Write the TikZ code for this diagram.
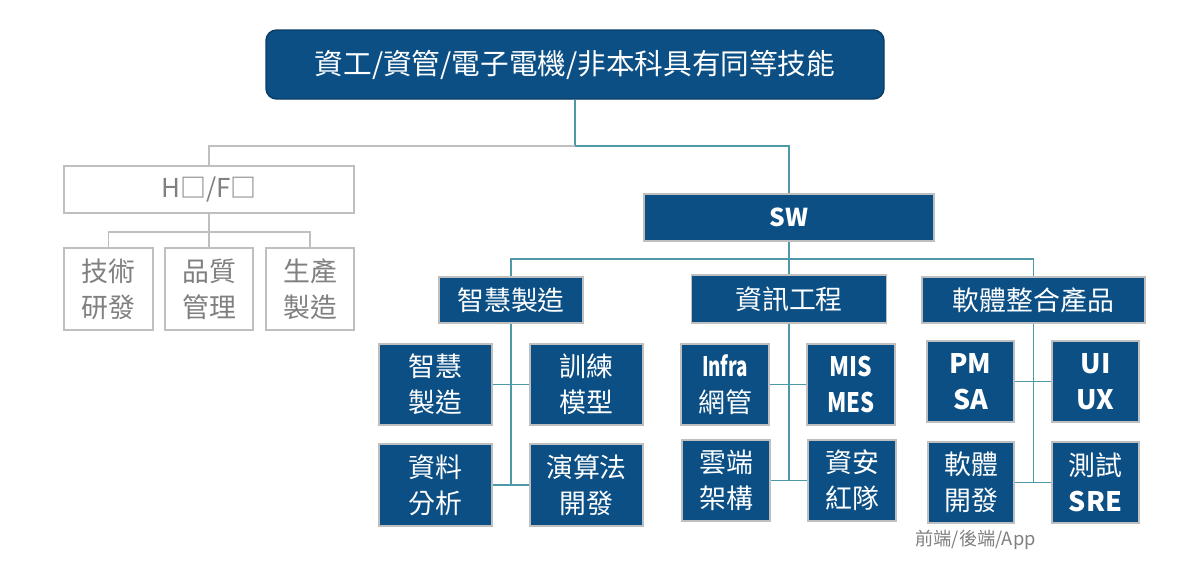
\documentclass[tikz,border=0pt]{standalone}
\usepackage{fontspec}
\setmainfont{Noto Sans CJK TC}
\usetikzlibrary{positioning,calc}

\definecolor{navy}{HTML}{0B4F85}
\definecolor{navyline}{HTML}{0A3D66}
\definecolor{linkteal}{HTML}{4E98A8}
\definecolor{boxgray}{HTML}{BFBFBF}
\definecolor{textgray}{HTML}{808080}

\begin{document}
\begin{tikzpicture}[
    x=0.02cm,
    y=-0.02cm,
    rootbox/.style={
        draw=navyline,
        fill=navy,
        rounded corners=6pt,
        line width=0.8pt,
        text=white,
        font=\fontsize{16.3}{20}\selectfont,
        minimum width=618*0.02cm,
        minimum height=69*0.02cm,
        inner sep=0pt
    },
    bluebox/.style={
        draw=boxgray,
        fill=navy,
        line width=1pt,
        text=white,
        align=center,
        font=\fontsize{15.3}{20.4}\selectfont,
        inner sep=0pt
    },
    graybox/.style={
        draw=boxgray,
        fill=white,
        line width=1pt,
        text=textgray,
        align=center,
        font=\fontsize{15.3}{20.4}\selectfont,
        inner sep=0pt
    },
    teal link/.style={
        draw=linkteal,
        line width=0.85pt
    },
    gray link/.style={
        draw=boxgray,
        line width=0.85pt
    }
]
    \useasboundingbox (0,0) rectangle (1200,582);

    % root
    \node[rootbox] (root) at (575,64.5) {資工/資管/電子電機/非本科具有同等技能};

    % hardware / firmware side
    \node[graybox,minimum width=290*0.02cm,minimum height=47*0.02cm,
          font=\fontsize{14.8}{18}\selectfont] (hf) at (209,189.5) {H□/F□};
    \node[graybox,minimum width=89*0.02cm,minimum height=82*0.02cm] (rd) at (108.5,289) {技術\\研發};
    \node[graybox,minimum width=88*0.02cm,minimum height=82*0.02cm] (qa) at (209,289) {品質\\管理};
    \node[graybox,minimum width=88*0.02cm,minimum height=82*0.02cm] (mfg) at (310,289) {生產\\製造};

    % software side
    \node[bluebox,minimum width=290*0.02cm,minimum height=47*0.02cm,
          font=\fontsize{14}{18}\selectfont\bfseries] (sw) at (789,217.5) {SW};
    \node[bluebox,minimum width=144*0.02cm,minimum height=46*0.02cm] (smart) at (511,300) {智慧製造};
    \node[bluebox,minimum width=195*0.02cm,minimum height=48*0.02cm] (it) at (789,299) {資訊工程};
    \node[bluebox,minimum width=223*0.02cm,minimum height=46*0.02cm] (prod) at (1033.5,300) {軟體整合產品};

    % smart manufacturing group
    \node[bluebox,minimum width=113*0.02cm,minimum height=81*0.02cm] (smA) at (435.5,384.5) {智慧\\製造};
    \node[bluebox,minimum width=113*0.02cm,minimum height=81*0.02cm] (smB) at (586.5,384.5) {訓練\\模型};
    \node[bluebox,minimum width=113*0.02cm,minimum height=82*0.02cm] (smC) at (435.5,485) {資料\\分析};
    \node[bluebox,minimum width=113*0.02cm,minimum height=82*0.02cm] (smD) at (586.5,485) {演算法\\開發};

    % IT group
    \node[bluebox,minimum width=88*0.02cm,minimum height=81*0.02cm] (itA) at (725,384.5) {\scalebox{0.7}[1]{\bfseries Infra}\\網管};
    \node[bluebox,minimum width=88*0.02cm,minimum height=81*0.02cm,font=\fontsize{15.3}{20.4}\selectfont\bfseries] (itB) at (851,384.5) {\scalebox{0.85}[1]{MIS}\\\scalebox{0.82}[1]{MES}};
    \node[bluebox,minimum width=88*0.02cm,minimum height=81*0.02cm] (itC) at (726,480.5) {雲端\\架構};
    \node[bluebox,minimum width=88*0.02cm,minimum height=81*0.02cm] (itD) at (852,480.5) {資安\\紅隊};

    % product group
    \node[bluebox,minimum width=87*0.02cm,minimum height=81*0.02cm,font=\fontsize{15.3}{20.4}\selectfont\bfseries] (prA) at (970.5,381.5) {PM\\SA};
    \node[bluebox,minimum width=87*0.02cm,minimum height=81*0.02cm,font=\fontsize{15.3}{20.4}\selectfont\bfseries] (prB) at (1095.5,381.5) {UI\\UX};
    \node[bluebox,minimum width=86*0.02cm,minimum height=81*0.02cm] (prC) at (971,482.5) {軟體\\開發};
    \node[bluebox,minimum width=87*0.02cm,minimum height=81*0.02cm] (prD) at (1095.5,482.5) {測試\\\textbf{SRE}};
    \node[text=textgray,font=\fontsize{10.4}{12}\selectfont,anchor=west,inner sep=0pt] (note) at (915,540) {前端/後端/App};

    % junctions
    \coordinate (topj) at (575,146);
    \coordinate (hfj) at (209,232);
    \coordinate (swj) at (789,259);

    % root links
    \draw[teal link] (root.south) -- (root.south |- topj) -| (sw.north);
    \draw[gray link] (root.south |- topj) -| (hf.north);

    % hf tree
    \draw[gray link] (hf.south) -- (qa.north);
    \draw[gray link] (rd.north) -- (rd.north |- hfj) -- (mfg.north |- hfj) -- (mfg.north);

    % sw tree
    \draw[teal link] (sw.south) -- (it.north);
    \draw[teal link] (smart.north) -- (smart.north |- swj) -- (prod.north |- swj) -- (prod.north);

    % group links
    \draw[teal link] (smart.south) -- (smart.south |- smC.east);
    \draw[teal link] (smA.east) -- (smB.west);
    \draw[teal link] (smC.east) -- (smD.west);
    \draw[teal link] (it.south) -- (it.south |- itC.east);
    \draw[teal link] (itA.east) -- (itB.west);
    \draw[teal link] (itC.east) -- (itD.west);
    \draw[teal link] (prod.south) -- (prod.south |- prC.east);
    \draw[teal link] (prA.east) -- (prB.west);
    \draw[teal link] (prC.east) -- (prD.west);
\end{tikzpicture}
\end{document}
